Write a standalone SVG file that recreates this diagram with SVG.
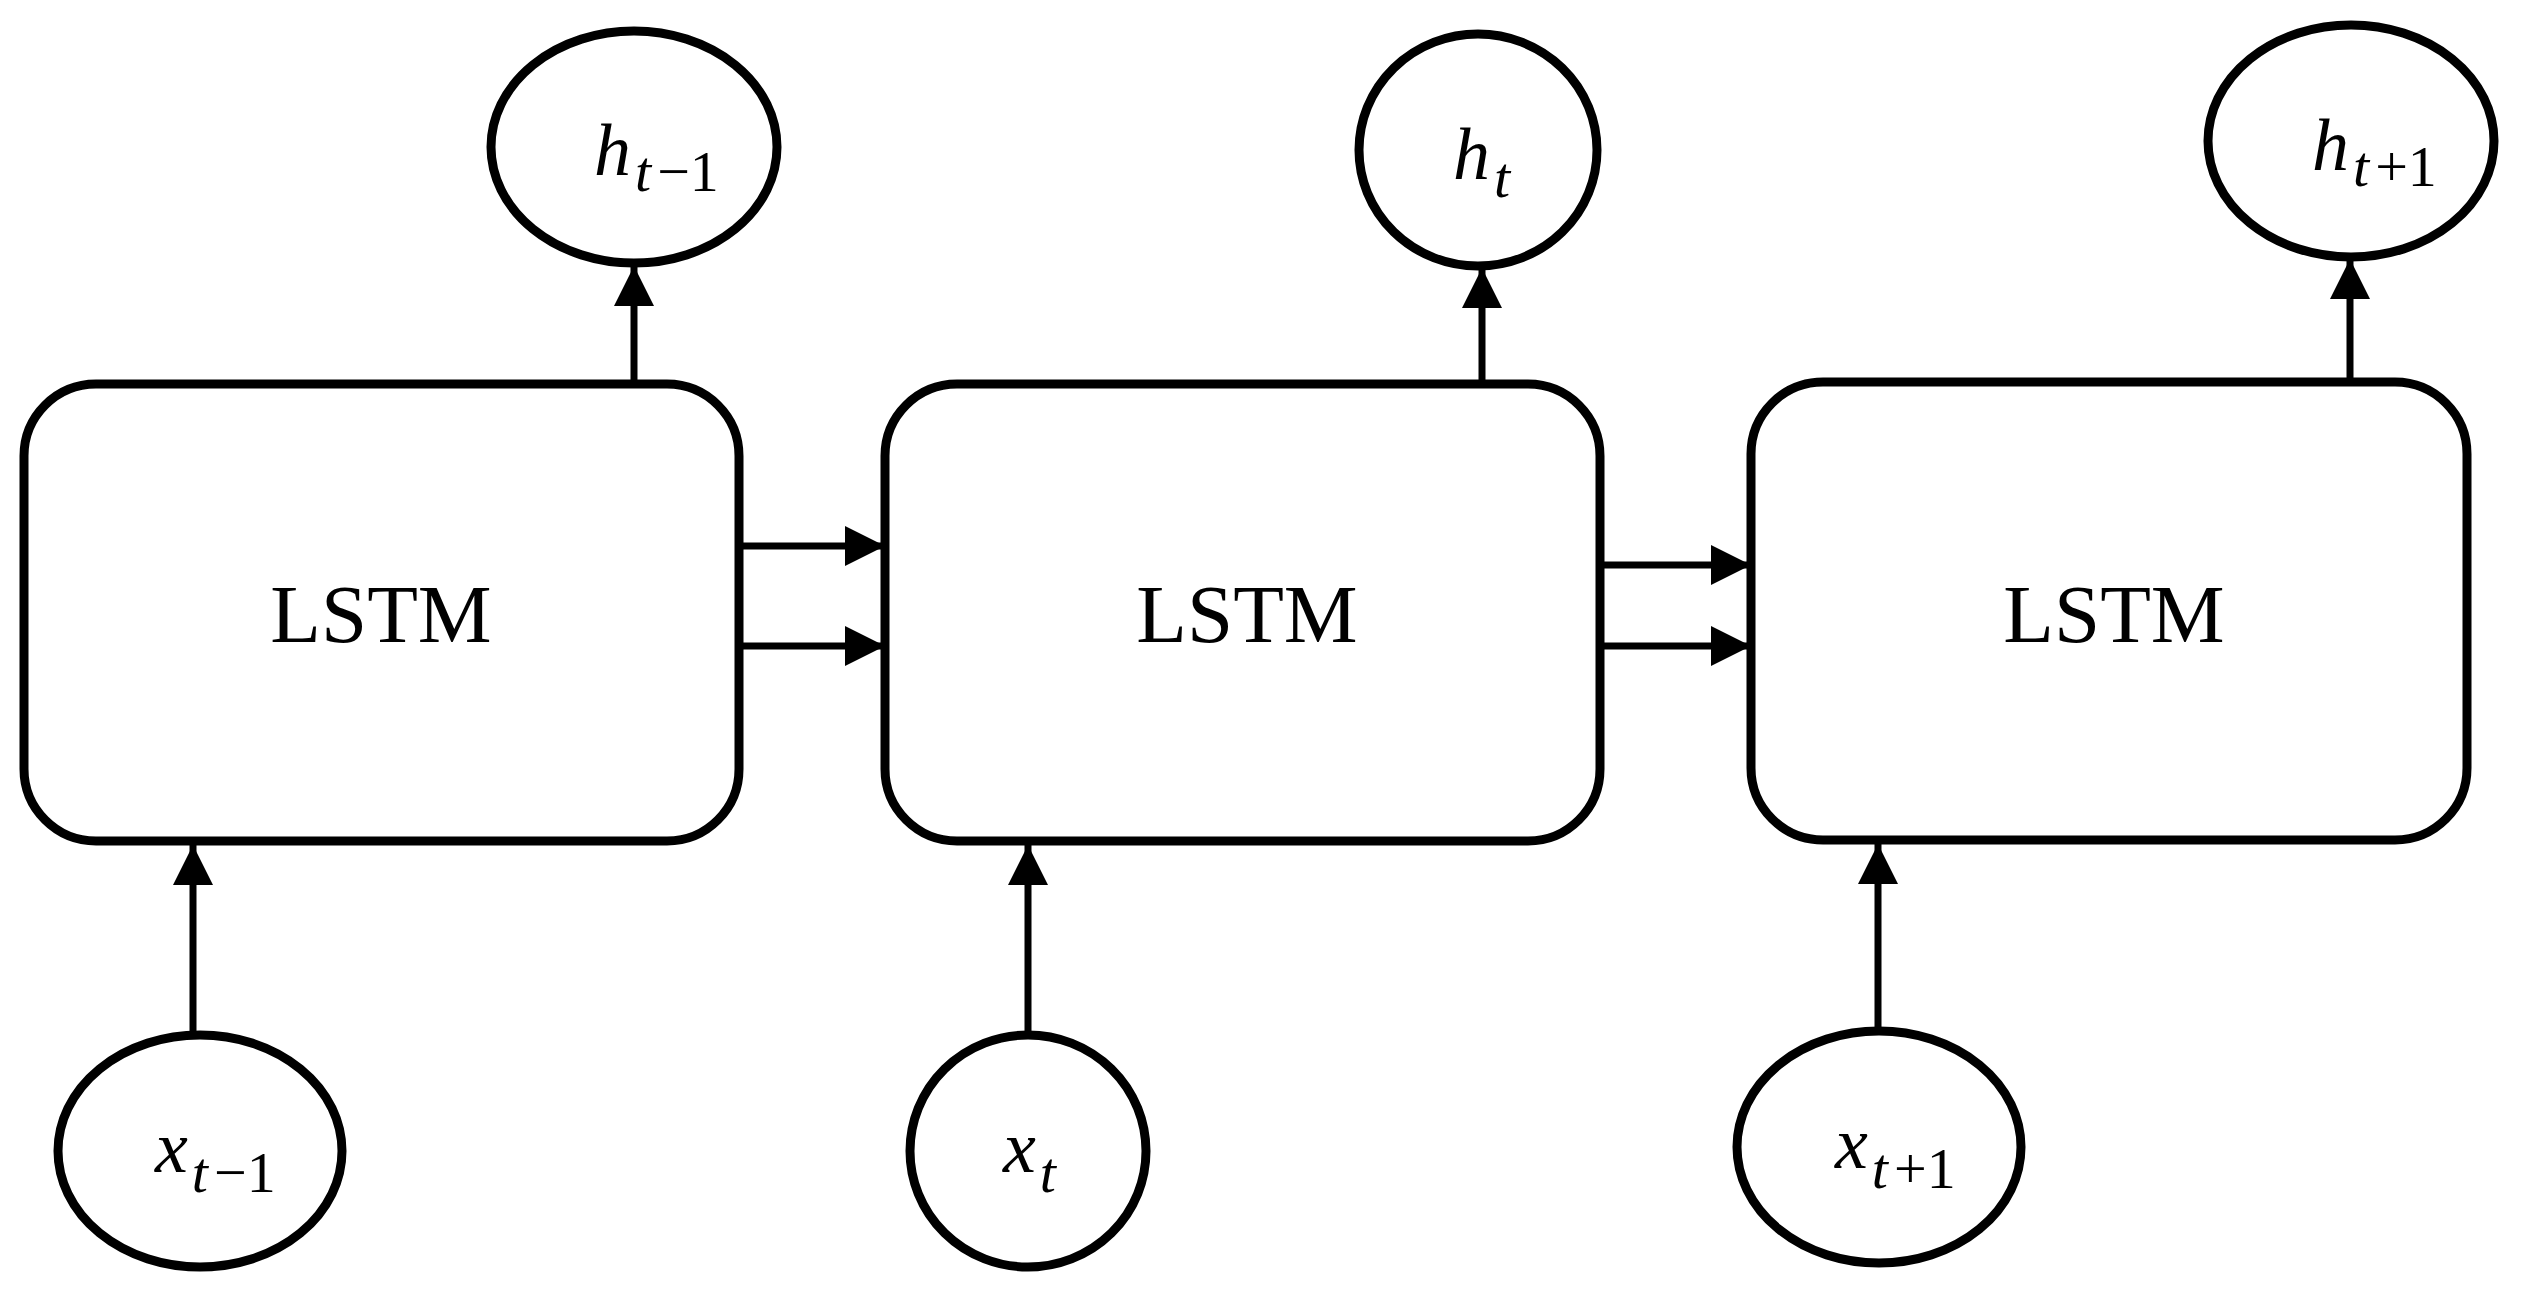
<svg xmlns="http://www.w3.org/2000/svg" width="2524" height="1302" viewBox="0 0 2524 1302">
<style>
.b{fill:#fff;stroke:#000;stroke-width:9}
.c{stroke:#000;stroke-width:7;fill:none}
.l{font-family:"Liberation Serif",serif;font-size:83px;text-anchor:middle}
.m{font-family:"Liberation Serif",serif;font-style:italic;font-size:74px}
.s{font-size:58px}
.n{font-style:normal}
</style>
<defs><marker id="a" markerUnits="userSpaceOnUse" markerWidth="42" markerHeight="42" refX="40" refY="20" orient="auto"><path d="M0,0L40,20L0,40Z"/></marker></defs>
<rect width="2524" height="1302" fill="#fff"/>
<g id="connectors">
<path class="c" marker-end="url(#a)" d="M634,384V266"/>
<path class="c" marker-end="url(#a)" d="M1482,384V268"/>
<path class="c" marker-end="url(#a)" d="M2350,382V259"/>
<path class="c" marker-end="url(#a)" d="M193,1035V845"/>
<path class="c" marker-end="url(#a)" d="M1028,1035V845"/>
<path class="c" marker-end="url(#a)" d="M1878,1031V844"/>
<path class="c" marker-end="url(#a)" d="M743,546H885"/>
<path class="c" marker-end="url(#a)" d="M743,646H885"/>
<path class="c" marker-end="url(#a)" d="M1604,565H1751"/>
<path class="c" marker-end="url(#a)" d="M1604,646H1751"/>
</g>
<g id="lstm1"><rect class="b" x="24" y="384" width="715" height="457" rx="72"/><text class="l" x="381" y="642">LSTM</text></g>
<g id="lstm2"><rect class="b" x="885" y="384" width="715" height="457" rx="72"/><text class="l" x="1247" y="642">LSTM</text></g>
<g id="lstm3"><rect class="b" x="1751" y="382" width="716" height="458" rx="72"/><text class="l" x="2114" y="642">LSTM</text></g>
<g id="h1"><ellipse class="b" cx="634" cy="147" rx="143" ry="116"/><text class="m" x="594" y="175">h<tspan class="s" dx="4" dy="16">t<tspan class="n" dx="6">−1</tspan></tspan></text></g>
<g id="h2"><ellipse class="b" cx="1478" cy="150" rx="119" ry="116"/><text class="m" x="1453" y="179">h<tspan class="s" dx="4" dy="18">t</tspan></text></g>
<g id="h3"><ellipse class="b" cx="2351" cy="141" rx="143" ry="116"/><text class="m" x="2312" y="170">h<tspan class="s" dx="4" dy="16">t<tspan class="n" dx="6">+1</tspan></tspan></text></g>
<g id="x1"><ellipse class="b" cx="200" cy="1151" rx="142" ry="116"/><text class="m" x="155" y="1172">x<tspan class="s" dx="4" dy="20">t<tspan class="n" dx="6">−1</tspan></tspan></text></g>
<g id="x2"><ellipse class="b" cx="1028" cy="1151" rx="118" ry="116"/><text class="m" x="1003" y="1172">x<tspan class="s" dx="4" dy="20">t</tspan></text></g>
<g id="x3"><ellipse class="b" cx="1879" cy="1147" rx="142" ry="116"/><text class="m" x="1835" y="1168">x<tspan class="s" dx="4" dy="20">t<tspan class="n" dx="6">+1</tspan></tspan></text></g>
</svg>
